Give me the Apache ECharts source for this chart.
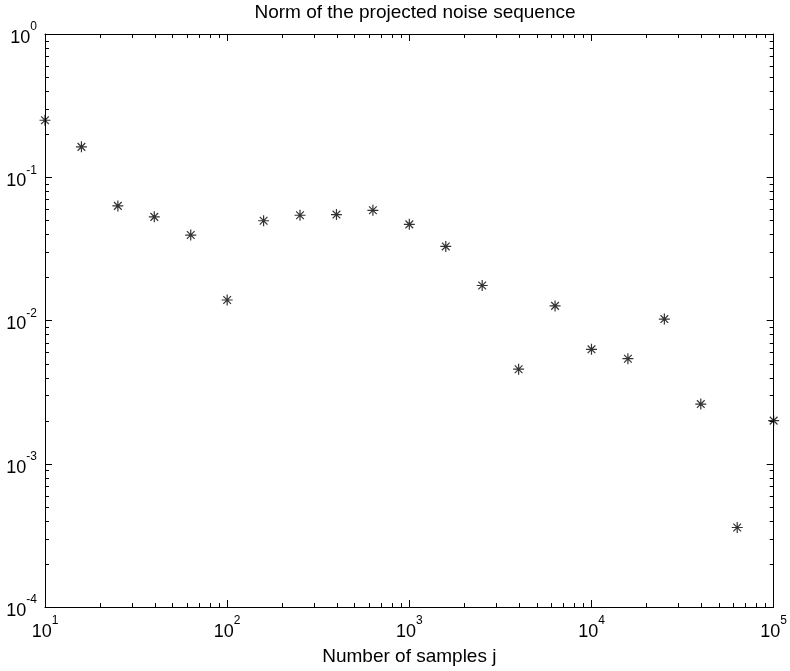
<!DOCTYPE html>
<html>
<head>
    <meta http-equiv="Content-Type" content="text/html; charset=utf-8"/>
    <script src="https://cdn.jsdelivr.net/npm/echarts@6/dist/echarts.min.js"></script>
    <style>
        html, body { margin: 0; padding: 0; background: #fff; }
    </style>
</head>
<body>
<div id="main" style="width:790px;height:671px;"></div>

<script type="text/javascript">
    // number of samples j (x) and norm of projected noise (y)
    var samples = [10, 15.85, 25.12, 39.81, 63.1, 100, 158.5, 251.2, 398.1, 631, 1000,
        1585, 2512, 3981, 6310, 10000, 15849, 25119, 39811, 63096, 100000];
    var noiseNorm = [0.250, 0.163, 0.0631, 0.0529, 0.0395, 0.0139, 0.0497, 0.0543, 0.0549, 0.0588, 0.0469,
        0.0329, 0.01755, 0.00457, 0.01265, 0.00629, 0.00541, 0.01023, 0.00261, 0.000359, 0.00200];

    var xRange = [10, 100000];
    var yRange = [0.0001, 1];
    var minorSteps = [2, 3, 4, 5, 6, 7, 8, 9];

    var FONT = 'Liberation Sans';

    var points = [];
    for (var i = 0; i < samples.length; i++) {
        points.push([samples[i], noiseNorm[i]]);
    }

    // 10^n labels with superscript exponent
    function powLabel(v) {
        var e = Math.round(Math.log(v) / Math.LN10);
        return '{b|10}{s|' + e + '}';
    }
    var richLabel = {
        b: {fontSize: 18, fontFamily: FONT, color: '#000', verticalAlign: 'bottom', lineHeight: 26},
        s: {fontSize: 12, fontFamily: FONT, color: '#000', verticalAlign: 'top', lineHeight: 26}
    };

    function logAxis(pos, range, withLabels, extra) {
        var ax = {
            type: 'log',
            logBase: 10,
            position: pos,
            min: range[0],
            max: range[1],
            splitLine: {show: false},
            axisLine: {show: true, onZero: false, lineStyle: {color: '#000', width: 1}},
            axisTick: {show: true, inside: true, length: 7, lineStyle: {color: '#000', width: 1}},
            axisLabel: {show: withLabels, formatter: powLabel, rich: richLabel, margin: 8}
        };
        for (var k in extra) ax[k] = extra[k];
        return ax;
    }

    var myChart = echarts.init(document.getElementById('main'));

    var option = {
        backgroundColor: '#fff',
        animation: false,
        title: {
            text: 'Norm of the projected noise sequence',
            left: 410,
            textAlign: 'center',
            top: -2,
            textStyle: {fontSize: 19, fontWeight: 'normal', fontFamily: FONT, color: '#000'}
        },
        grid: {left: 45, top: 34, right: 14, bottom: 58},
        xAxis: [
            logAxis('bottom', xRange, true, {
                name: 'Number of samples j',
                nameLocation: 'middle',
                nameGap: 40,
                nameTextStyle: {fontSize: 19, fontFamily: FONT, color: '#000'}
            }),
            logAxis('top', xRange, false, {})
        ],
        yAxis: [
            logAxis('left', yRange, true, {}),
            logAxis('right', yRange, false, {})
        ],
        series: [{
            type: 'scatter',
            data: points,
            symbol: 'path://M5 0L5 10M0 5L10 5M1.5 1.5L8.5 8.5M1.5 8.5L8.5 1.5',
            symbolSize: 11,
            clip: false,
            itemStyle: {color: 'transparent', borderColor: '#000', borderWidth: 1.2}
        }]
    };
    myChart.setOption(option);

    // minor ticks (2..9 in every decade) on all four sides, pointing inward
    var ticks = [];
    function tickLine(x1, y1, x2, y2) {
        ticks.push({
            type: 'line',
            silent: true,
            shape: {x1: x1, y1: y1, x2: x2, y2: y2},
            style: {stroke: '#000', lineWidth: 1}
        });
    }
    var corner0 = myChart.convertToPixel({gridIndex: 0}, [xRange[0], yRange[0]]);
    var corner1 = myChart.convertToPixel({gridIndex: 0}, [xRange[1], yRange[1]]);
    var minLen = 4;
    for (var d = xRange[0]; d < xRange[1]; d *= 10) {
        for (var m = 0; m < minorSteps.length; m++) {
            var px = Math.round(myChart.convertToPixel({gridIndex: 0}, [d * minorSteps[m], yRange[0]])[0]) + 0.5;
            tickLine(px, corner0[1], px, corner0[1] - minLen);
            tickLine(px, corner1[1], px, corner1[1] + minLen);
        }
    }
    for (var d2 = yRange[0]; d2 < yRange[1] * 0.999; d2 *= 10) {
        for (var m2 = 0; m2 < minorSteps.length; m2++) {
            var py = Math.round(myChart.convertToPixel({gridIndex: 0}, [xRange[0], d2 * minorSteps[m2]])[1]) + 0.5;
            tickLine(corner0[0], py, corner0[0] + minLen, py);
            tickLine(corner1[0], py, corner1[0] - minLen, py);
        }
    }
    myChart.setOption({graphic: ticks});
</script>
</body>
</html>
